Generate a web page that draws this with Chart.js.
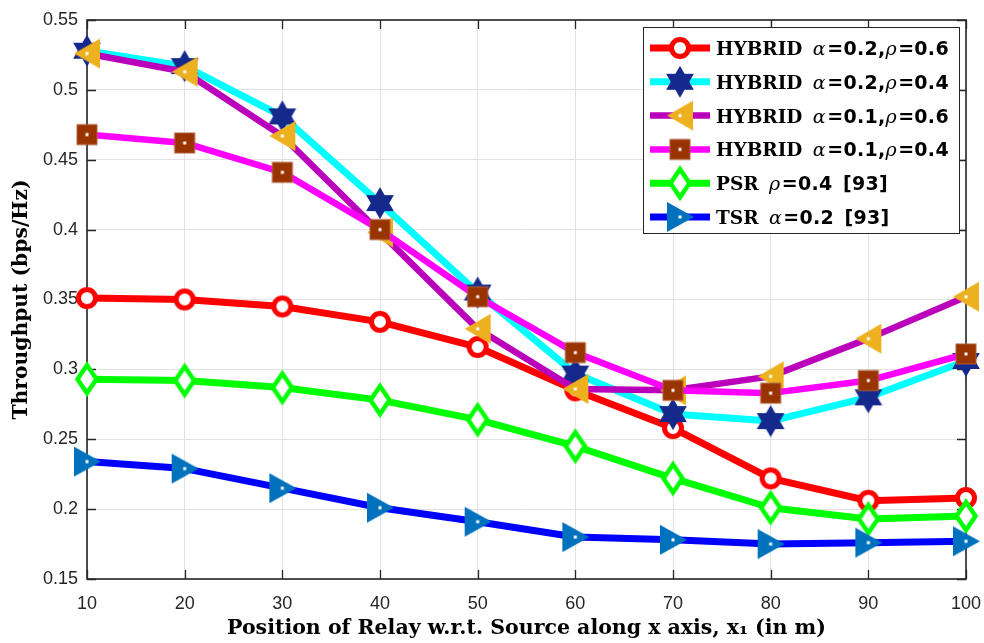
<!DOCTYPE html>
<html><head><meta charset="utf-8">
<script src="https://cdn.jsdelivr.net/npm/chart.js@4/dist/chart.umd.min.js"></script>
<style>html,body{margin:0;padding:0;background:#fff}#wrap{width:984px;height:643px;position:relative}</style>
</head><body><div id="wrap"><canvas id="c"></canvas></div>
<script>
// ---- data ----
const positions = [10, 20, 30, 40, 50, 60, 70, 80, 90, 100];
const hybridA02R06 = [0.351, 0.350, 0.345, 0.334, 0.316, 0.285, 0.258, 0.222, 0.206, 0.208];
const hybridA02R04 = [0.528, 0.517, 0.481, 0.419, 0.355, 0.297, 0.268, 0.263, 0.280, 0.306];
const hybridA01R06 = [0.526, 0.513, 0.467, 0.398, 0.329, 0.286, 0.285, 0.295, 0.322, 0.352];
const hybridA01R04 = [0.468, 0.462, 0.441, 0.400, 0.352, 0.312, 0.285, 0.283, 0.292, 0.311];
const psrR04 = [0.293, 0.292, 0.287, 0.278, 0.264, 0.245, 0.222, 0.201, 0.193, 0.195];
const tsrA02 = [0.234, 0.229, 0.215, 0.201, 0.191, 0.180, 0.178, 0.175, 0.176, 0.177];
const seriesLabels = ['HYBRID α=0.2,ρ=0.6', 'HYBRID α=0.2,ρ=0.4', 'HYBRID α=0.1,ρ=0.6', 'HYBRID α=0.1,ρ=0.4', 'PSR ρ=0.4 [93]', 'TSR α=0.2 [93]'];
const xTickValues = [10, 20, 30, 40, 50, 60, 70, 80, 90, 100];
const yTickValues = [0.15, 0.2, 0.25, 0.3, 0.35, 0.4, 0.45, 0.5, 0.55];
const xTitle = 'Position of Relay w.r.t. Source along x axis, x\u2081 (in m)';
const yTitle = 'Throughput (bps/Hz)';

// ---- marker images ----
function marker(kind, fill, stroke) {
  const S = 40, c = document.createElement('canvas');
  c.width = S; c.height = S;
  const g = c.getContext('2d');
  g.translate(S / 2, S / 2);
  const dot = () => { g.fillStyle = '#fff'; g.fillRect(-1.5, -1.5, 3, 3); };
  if (kind === 'circle') {
    g.beginPath(); g.arc(0, 0, 8.5, 0, Math.PI * 2);
    g.fillStyle = '#fff'; g.fill();
    g.lineWidth = 5; g.strokeStyle = stroke; g.stroke();
  } else if (kind === 'hexagram') {
    const R = 16, r = R / Math.sqrt(3);
    g.beginPath();
    for (let k = 0; k < 12; k++) {
      const a = -Math.PI / 2 + k * Math.PI / 6;
      const rr = k % 2 === 0 ? R : r;
      const px = rr * Math.cos(a), py = rr * Math.sin(a);
      k ? g.lineTo(px, py) : g.moveTo(px, py);
    }
    g.closePath(); g.fillStyle = fill; g.fill();
  } else if (kind === 'triLeft') {
    g.beginPath(); g.moveTo(-13, 0); g.lineTo(13, -15); g.lineTo(13, 15); g.closePath();
    g.fillStyle = fill; g.fill(); dot();
  } else if (kind === 'triRight') {
    g.beginPath(); g.moveTo(14, 0); g.lineTo(-13, -15); g.lineTo(-13, 15); g.closePath();
    g.fillStyle = fill; g.fill(); dot();
  } else if (kind === 'square') {
    g.fillStyle = fill; g.fillRect(-10, -10, 20, 20);
    g.lineWidth = 1; g.strokeStyle = '#b0603a'; g.strokeRect(-10, -10, 20, 20);
    dot();
  } else if (kind === 'diamond') {
    g.beginPath(); g.moveTo(0, -14); g.lineTo(9.5, 0); g.lineTo(0, 14); g.lineTo(-9.5, 0); g.closePath();
    g.fillStyle = '#fff'; g.fill();
    g.lineWidth = 4.5; g.lineJoin = 'miter'; g.strokeStyle = stroke; g.stroke();
  }
  return c;
}

const styles = [
  { line: '#FF0000', w: 7,   m: marker('circle', null, '#FF0000') },
  { line: '#00FFFF', w: 7,   m: marker('hexagram', '#15298C') },
  { line: '#BB00BB', w: 6.5, m: marker('triLeft', '#EDB120') },
  { line: '#FF00FF', w: 6.5, m: marker('square', '#993300') },
  { line: '#00FF00', w: 7,   m: marker('diamond', null, '#00FF00') },
  { line: '#0000FF', w: 7,   m: marker('triRight', '#0072BD') }
];
const seriesValues = [hybridA02R06, hybridA02R04, hybridA01R06, hybridA01R04, psrR04, tsrA02];

const datasets = seriesValues.map((vals, i) => ({
  label: seriesLabels[i],
  data: positions.map((x, j) => ({ x: x, y: vals[j] })),
  borderColor: styles[i].line,
  backgroundColor: styles[i].line,
  borderWidth: styles[i].w,
  pointStyle: styles[i].m,
  pointRadius: 10,
  pointHoverRadius: 10,
  tension: 0,
  clip: false,
  borderJoinStyle: 'round',
  borderCapStyle: 'round',
  order: seriesValues.length - i
}));

const AXIS = '#262626';
const boxPlugin = {
  id: 'box',
  beforeDatasetsDraw(chart) {
    const { ctx, chartArea: a, scales } = chart;
    ctx.save();
    ctx.strokeStyle = AXIS; ctx.lineWidth = 1.6;
    ctx.strokeRect(a.left, a.top, a.right - a.left, a.bottom - a.top);
    ctx.lineWidth = 1.3;
    const L = 9;
    ctx.beginPath();
    xTickValues.forEach(v => {
      const px = Math.round(scales.x.getPixelForValue(v)) + 0.5;
      ctx.moveTo(px, a.bottom); ctx.lineTo(px, a.bottom - L);
      ctx.moveTo(px, a.top); ctx.lineTo(px, a.top + L);
    });
    yTickValues.forEach(v => {
      const py = Math.round(scales.y.getPixelForValue(v)) + 0.5;
      ctx.moveTo(a.left, py); ctx.lineTo(a.left + L, py);
      ctx.moveTo(a.right, py); ctx.lineTo(a.right - L, py);
    });
    ctx.stroke();
    ctx.restore();
  }
};

const SERIF = "'DejaVu Serif', serif";
const SANS_B = "'DejaVu Sans', sans-serif";
const legendPlugin = {
  id: 'innerLegend',
  afterDatasetsDraw(chart) {
    const ctx = chart.ctx;
    const bx = 643, by = 27, bw = 316, bh = 206;
    ctx.save();
    ctx.fillStyle = '#fff'; ctx.fillRect(bx, by, bw, bh);
    ctx.strokeStyle = AXIS; ctx.lineWidth = 1; ctx.strokeRect(bx + 0.5, by + 0.5, bw, bh);
    chart.data.datasets.forEach((ds, i) => {
      const cy = 48 + i * 33.8;
      ctx.strokeStyle = ds.borderColor; ctx.lineWidth = ds.borderWidth;
      ctx.beginPath(); ctx.moveTo(650, cy); ctx.lineTo(710, cy); ctx.stroke();
      const m = ds.pointStyle;
      ctx.drawImage(m, 680 - m.width / 2, cy - m.height / 2);
      let x = 716;
      ctx.fillStyle = '#000'; ctx.textBaseline = 'alphabetic';
      const base = cy + 7;
      for (const ch of ds.label) {
        let font, extra = 0;
        if (/[α-ω]/.test(ch)) { font = 'italic 19px ' + SERIF; extra = 1.5; }
        else if (/[A-Za-z ]/.test(ch)) { font = 'bold 18.5px ' + SERIF; extra = ch === ' ' ? 4 : 0; }
        else { font = 'bold 19px ' + SANS_B; extra = 0.3; }
        ctx.font = font;
        ctx.fillText(ch, x, base);
        x += ctx.measureText(ch).width + extra;
      }
    });
    ctx.restore();
  }
};

new Chart(document.getElementById('c'), {
  type: 'line',
  data: { datasets },
  options: {
    responsive: true,
    maintainAspectRatio: false,
    animation: false,
    events: [],
    layout: { padding: { left: 0, right: 18, top: 20, bottom: 0 } },
    plugins: { legend: { display: false }, tooltip: { enabled: false } },
    scales: {
      x: {
        type: 'linear', min: 10, max: 100,
        afterBuildTicks: s => { s.ticks = xTickValues.map(v => ({ value: v })); },
        afterFit: s => { s.height = 64; s.paddingLeft = 0; s.paddingRight = 0; },
        grid: { color: '#e2e2e2', lineWidth: 1, drawTicks: false },
        border: { display: false },
        ticks: { color: AXIS, font: { family: "'Liberation Sans', Arial, sans-serif", size: 18 }, padding: 14, maxRotation: 0, autoSkip: false },
        title: { display: true, text: xTitle, color: '#000', font: { family: SERIF, size: 20.5, weight: 'bold' }, padding: { top: 0, bottom: 2 } }
      },
      y: {
        type: 'linear', min: 0.15, max: 0.55,
        afterBuildTicks: s => { s.ticks = yTickValues.map(v => ({ value: v })); },
        afterFit: s => { s.width = 87; s.paddingTop = 0; s.paddingBottom = 0; },
        grid: { color: '#e2e2e2', lineWidth: 1, drawTicks: false },
        border: { display: false },
        ticks: { color: AXIS, font: { family: "'Liberation Sans', Arial, sans-serif", size: 18 }, padding: 9, autoSkip: false,
          callback: v => String(parseFloat(Number(v).toFixed(2))) },
        title: { display: true, text: yTitle, color: '#000', font: { family: SERIF, size: 20.3, weight: 'bold' }, padding: { top: 10, bottom: 0 } }
      }
    }
  },
  plugins: [boxPlugin, legendPlugin]
});
</script>
</body></html>
